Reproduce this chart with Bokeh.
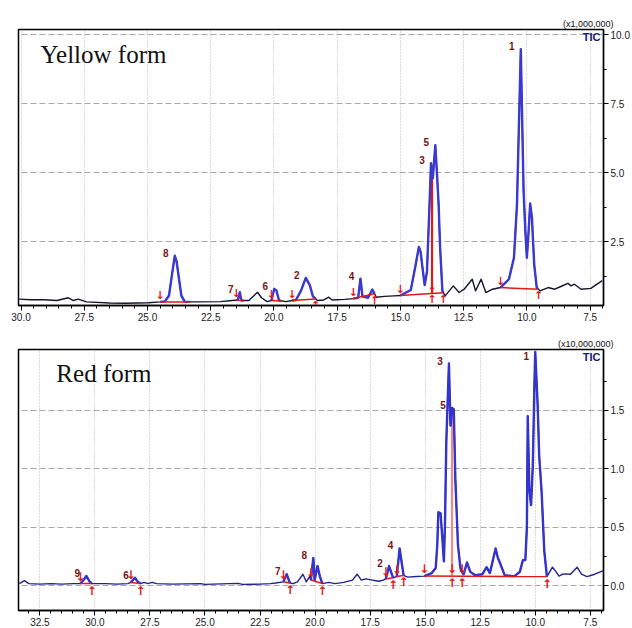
import numpy as np
from bokeh.plotting import figure
from bokeh.layouts import column
from bokeh.models import Range1d, FixedTicker, PrintfTickFormatter, Label, Title
from bokeh.embed import file_html
from bokeh.resources import INLINE
from bokeh.core.properties import value

# ---------------- Yellow form (TIC x1,000,000) ----------------
yellow_time = [30.07, 29.62, 29.1, 28.58, 28.13, 27.93, 27.74, 27.41, 26.5, 25.86,
               24.96, 24.5, 24.31, 24.15, 24.05, 23.92, 23.85, 23.76, 23.66, 23.53,
               23.34, 23.01, 22.11, 21.65, 21.43, 21.35, 21.29, 20.99, 20.88, 20.65,
               20.49, 20.27, 20.1, 19.99, 19.9, 19.8, 19.52, 19.28, 19.13, 18.93,
               18.74, 18.58, 18.46, 18.28, 18.03, 17.83, 17.7, 17.19, 16.86, 16.67,
               16.58, 16.5, 16.28, 16.11, 15.95, 15.63, 15.24, 15.0, 14.59, 14.4,
               14.27, 14.2, 14.14, 14.04, 13.95, 13.84, 13.79, 13.72, 13.62, 13.56,
               13.49, 13.43, 13.34, 13.23, 12.91, 12.68, 12.48, 12.16, 12.03, 11.81,
               11.62, 11.36, 11.04, 10.71, 10.51, 10.39, 10.32, 10.28, 10.24, 10.19,
               10.13, 10.06, 10.0, 9.93, 9.87, 9.8, 9.71, 9.61, 9.48, 9.16,
               8.9, 8.7, 8.38, 8.25, 8.12, 7.86, 7.47, 7.02]
yellow_tic = [0.43, 0.41, 0.41, 0.38, 0.48, 0.38, 0.43, 0.33, 0.29, 0.28,
              0.30, 0.33, 0.35, 0.56, 1.2, 2.0, 1.8, 1.2, 0.56, 0.34,
              0.33, 0.33, 0.34, 0.38, 0.40, 0.68, 0.38, 0.38, 0.48, 0.68,
              0.48, 0.34, 0.38, 0.80, 0.74, 0.38, 0.34, 0.38, 0.40, 0.74,
              1.2, 0.93, 0.53, 0.38, 0.40, 0.50, 0.40, 0.42, 0.45, 0.48,
              1.17, 0.53, 0.48, 0.78, 0.50, 0.53, 0.55, 0.56, 0.76, 1.66,
              2.32, 2.14, 1.66, 0.94, 1.42, 4.08, 5.35, 4.8, 6.0, 5.08,
              3.87, 2.3, 0.73, 0.55, 0.91, 0.67, 0.79, 1.15, 0.73, 1.15,
              0.67, 0.79, 0.85, 1.15, 1.93, 3.87, 6.52, 7.97, 9.48, 7.13,
              4.35, 2.9, 1.93, 2.9, 3.89, 3.38, 1.69, 0.85, 0.73, 0.85,
              0.79, 0.87, 1.0, 0.91, 0.97, 0.79, 0.82, 1.1]
yellow_win_start = [24.5, 21.49, 20.1, 19.28, 16.86, 15.0, 11.04]
yellow_win_end = [23.34, 21.2, 19.71, 18.35, 16.02, 13.3, 9.54]
yellow_down = [24.5, 21.49, 20.1, 19.28, 16.86, 15.0, 13.75, 11.04]
yellow_up = [18.35, 16.02, 13.75, 13.3, 9.54]
yellow_drop = [13.75]
yellow_peak_names = ["8", "7", "6", "2", "4", "3", "5", "1"]
yellow_peak_times = [23.92, 21.35, 19.99, 18.74, 16.58, 13.79, 13.62, 10.24]
yellow_xticks = [30.0, 27.5, 25.0, 22.5, 20.0, 17.5, 15.0, 12.5, 10.0, 7.5]
yellow_yticks = [2.5, 5.0, 7.5, 10.0]

# ---------------- Red form (TIC x10,000,000) ----------------
red_time = [33.43, 33.2, 33.0, 32.5, 32.0, 31.5, 31.0, 30.66, 30.52, 30.39,
            30.25, 30.14, 29.5, 29.0, 28.5, 28.37, 28.18, 28.05, 27.93, 27.75,
            27.6, 27.4, 27.2, 26.5, 25.2, 25.0, 23.5, 23.3, 22.5, 22.03,
            21.8, 21.44, 21.29, 21.14, 21.0, 20.8, 20.55, 20.4, 20.25, 20.19,
            20.08, 20.02, 19.89, 19.78, 19.67, 19.37, 19.1, 18.7, 18.3, 18.09,
            17.9, 17.7, 17.4, 17.1, 16.9, 16.79, 16.64, 16.46, 16.29, 16.16,
            15.98, 15.8, 15.4, 15.04, 14.7, 14.52, 14.45, 14.4, 14.3, 14.22,
            14.15, 14.1, 14.04, 13.92, 13.85, 13.78, 13.7, 13.63, 13.51, 13.4,
            13.33, 13.25, 13.1, 12.95, 12.73, 12.4, 12.21, 12.06, 11.8, 11.7,
            11.61, 11.39, 11.1, 10.94, 10.7, 10.56, 10.45, 10.38, 10.34, 10.27,
            10.19, 10.11, 10.04, 10.0, 9.89, 9.82, 9.71, 9.59, 9.47, 9.4,
            9.22, 9.05, 8.92, 8.75, 8.62, 8.4, 8.1, 7.9, 7.65, 7.3, 6.9]
red_tic = [0.02, 0.045, 0.02, 0.015, 0.02, 0.015, 0.02, 0.02, 0.05, 0.085,
           0.04, 0.02, 0.02, 0.015, 0.02, 0.03, 0.07, 0.035, 0.02, 0.03,
           0.02, 0.03, 0.02, 0.015, 0.02, 0.013, 0.022, 0.013, 0.015, 0.02,
           0.025, 0.035, 0.10, 0.025, 0.02, 0.035, 0.10, 0.035, 0.08, 0.05,
           0.24, 0.05, 0.17, 0.08, 0.02, 0.03, 0.02, 0.03, 0.05, 0.10,
           0.05, 0.06, 0.05, 0.04, 0.05, 0.06, 0.17, 0.07, 0.08, 0.32,
           0.09, 0.075, 0.08, 0.084, 0.11, 0.154, 0.35, 0.63, 0.62, 0.41,
           0.21, 0.52, 1.23, 1.90, 1.37, 1.52, 1.51, 0.92, 0.35, 0.154,
           0.12, 0.10, 0.20, 0.12, 0.092, 0.10, 0.16, 0.11, 0.32, 0.24,
           0.20, 0.092, 0.085, 0.084, 0.12, 0.22, 0.22, 0.5, 1.45, 0.83,
           0.69, 1.03, 1.70, 2.0, 1.54, 1.11, 0.80, 0.30, 0.08, 0.10,
           0.16, 0.12, 0.084, 0.10, 0.103, 0.10, 0.16, 0.10, 0.08, 0.10, 0.13]
red_win_start = [30.66, 28.37, 21.44, 20.19, 16.79, 16.29, 15.04]
red_win_end = [30.14, 27.93, 21.14, 19.67, 16.46, 15.98, 9.47]
red_down = [30.66, 28.37, 21.44, 20.19, 16.79, 16.29, 15.04, 13.78, 13.33]
red_up = [30.14, 27.93, 21.14, 19.67, 16.46, 15.98, 13.78, 13.33, 9.47]
red_drop = [13.78]
red_peak_names = ["9", "6", "7", "8", "2", "4", "3", "5", "1"]
red_peak_times = [30.39, 28.18, 21.29, 20.08, 16.64, 16.16, 13.92, 13.78, 10.0]
red_xticks = [32.5, 30.0, 27.5, 25.0, 22.5, 20.0, 17.5, 15.0, 12.5, 10.0, 7.5]
red_yticks = [0.0, 0.5, 1.0, 1.5]


def make_panel(time, tic, w_start, w_end, downs, ups, drops, pk_names, pk_times,
               xticks, yticks, y_minor, x_rng, y_rng, scale_text, form_text,
               form_pos, height, border_left, border_top, border_bottom,
               trace_color, peak_color, drop_color, arrow_size):
    t = np.array(time, dtype=float)
    y = np.array(tic, dtype=float)
    tt, yy = t[::-1], y[::-1]

    def base_at(v):
        for s, e in zip(w_start, w_end):
            if e < v < s:
                return float(np.interp(v, [e, s], [np.interp(e, tt, yy), np.interp(s, tt, yy)]))
        return float(np.interp(v, tt, yy))

    p = figure(width=632, height=height, output_backend="svg", toolbar_location=None,
               x_range=Range1d(*x_rng), y_range=Range1d(*y_rng), y_axis_location="right",
               min_border_left=border_left, min_border_right=26, min_border_top=border_top,
               min_border_bottom=border_bottom, background_fill_color="white",
               border_fill_color="white")
    p.title = Title(text=scale_text, align="right", text_font_size="9px",
                    text_font_style="normal", text_font="Liberation Sans",
                    text_color="#111111", standoff=1, offset=-10)
    p.outline_line_color = "black"
    p.outline_line_width = 1.5

    minors = list(np.arange(7.0, 34.0, 0.5))
    p.xaxis.ticker = FixedTicker(ticks=xticks, minor_ticks=minors)
    p.yaxis.ticker = FixedTicker(ticks=yticks, minor_ticks=y_minor)
    for ax in (p.xaxis, p.yaxis):
        ax.formatter = PrintfTickFormatter(format="%.1f")
        ax.major_label_text_font = "Liberation Sans"
        ax.major_label_text_font_size = "10px"
        ax.major_label_text_color = "#1a1a1a"
        ax.major_tick_out = 5
        ax.major_tick_in = 0
        ax.minor_tick_out = 3
        ax.minor_tick_in = 0
        ax.axis_line_color = "black"
        ax.axis_line_width = 1.3
        ax.major_tick_line_color = "black"
        ax.minor_tick_line_color = "black"
        ax.major_label_standoff = 2
    p.xgrid.grid_line_color = "#b4b4b4"
    p.xgrid.grid_line_dash = "1 2"
    p.ygrid.grid_line_color = "#a8a8a8"
    p.ygrid.grid_line_dash = "6 3"

    # red drop lines (under the trace)
    for d in drops:
        p.segment(x0=[d], y0=[base_at(d)], x1=[d], y1=[float(np.interp(d, tt, yy))],
                  line_color=drop_color, line_width=2.2)

    # trace
    p.line(t, y, line_color=trace_color, line_width=1.4, line_join="round")

    # integrated peak regions in blue
    xs, ys = [], []
    for s, e in zip(w_start, w_end):
        m = (t < s) & (t > e)
        seg_t = np.concatenate([[s], t[m], [e]])
        xs.append(list(seg_t))
        ys.append(list(np.interp(seg_t, tt, yy)))
    p.multi_line(xs, ys, line_color=peak_color, line_width=2.4, line_join="round")

    # red integration baselines
    p.segment(x0=w_start, y0=[float(np.interp(s, tt, yy)) for s in w_start],
              x1=w_end, y1=[float(np.interp(e, tt, yy)) for e in w_end],
              line_color="#e01818", line_width=1.5)

    # arrows
    p.text(x=downs, y=[base_at(v) for v in downs], text=["\u2193"] * len(downs),
           text_color="#e01818", text_font=value("DejaVu Sans"), text_font_style="bold",
           text_font_size=arrow_size, text_align="center", text_baseline="bottom")
    p.text(x=ups, y=[base_at(v) for v in ups], text=["\u2191"] * len(ups),
           text_color="#e01818", text_font=value("DejaVu Sans"), text_font_style="bold",
           text_font_size=arrow_size, text_align="center", text_baseline="top")

    # peak labels (kept inside the frame)
    cap = y_rng[0] + 0.965 * (y_rng[1] - y_rng[0])
    p.text(x=pk_times, y=[min(float(np.interp(v, tt, yy)), cap) for v in pk_times],
           text=pk_names, text_color="#7a1414", text_font=value("Liberation Sans"),
           text_font_style="bold", text_font_size="10px", text_align="center",
           text_baseline="middle", x_offset=-9, y_offset=-3)

    p.add_layout(Label(x=x_rng[1], y=y_rng[1], text="TIC", text_font="Liberation Sans",
                       text_font_style="bold", text_font_size="11px", text_color="#1a1a70",
                       text_align="right", text_baseline="top", x_offset=-3, y_offset=-1))
    p.add_layout(Label(x=form_pos[0], y=form_pos[1], text=form_text,
                       text_font="Liberation Serif", text_font_size="25px",
                       text_color="#111111", text_align="left", text_baseline="top"))
    return p


p1 = make_panel(yellow_time, yellow_tic, yellow_win_start, yellow_win_end, yellow_down,
                yellow_up, yellow_drop, yellow_peak_names, yellow_peak_times,
                yellow_xticks, yellow_yticks, [1.25, 3.75, 6.25, 8.75],
                (30.1, 6.97), (0.2, 10.19), "(x1,000,000)", "Yellow  form",
                (29.23, 9.78), 330, 18, 29, 25, "#14142e", "#3a3ad2", "#e01818", "11px")
p2 = make_panel(red_time, red_tic, red_win_start, red_win_end, red_down, red_up, red_drop,
                red_peak_names, red_peak_times, red_xticks, red_yticks,
                [-0.25, 0.25, 0.75, 1.25, 1.75],
                (33.47, 6.9), (-0.21, 2.02), "(x10,000,000)", "Red  form",
                (31.75, 1.93), 298, 14, 19, 15, "#1f228e", "#3434cc", "#f08a8a", "12px")

layout = column(p1, p2, spacing=0)
open("out.html", "w").write(file_html(layout, INLINE))
